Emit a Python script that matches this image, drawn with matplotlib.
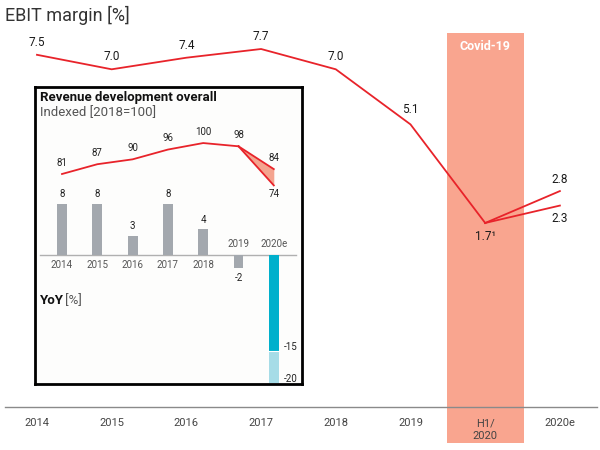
import matplotlib
matplotlib.use("Agg")
import matplotlib.pyplot as plt

plt.rcParams['font.family'] = ['Roboto', 'DejaVu Sans']

# ---- data ----
years = ["2014", "2015", "2016", "2017", "2018", "2019", "H1/\n2020", "2020e"]
ebit = [7.5, 7.0, 7.4, 7.7, 7.0, 5.1, 1.7]
ebit_2020e = [2.8, 2.3]
ebit_labels = ["7.5", "7.0", "7.4", "7.7", "7.0", "5.1", "1.7¹"]

rev_years = ["2014", "2015", "2016", "2017", "2018", "2019", "2020e"]
rev_index = [81, 87, 90, 96, 100, 98]
rev_2020e = [84, 74]
yoy = [8, 8, 3, 8, 4, -2]
yoy_2020e = [-15, -20]

RED = "#E8232A"
SALMON = "#F9A58F"
GREY_BAR = "#A3A8AE"
TEAL = "#00B0CC"
LIGHT_TEAL = "#A6DCE7"

fig = plt.figure(figsize=(6, 4.5), dpi=100)
fig.patch.set_facecolor("white")

# ---- main axes ----
ax = fig.add_axes([0, 0, 1, 1])
ax.set_xlim(-0.495, 7.537)
ax.set_ylim(-6.13, 9.39)
ax.axis("off")

n = len(ebit)
xs = list(range(n))
ax.axvspan(5.485, 6.515, ymin=(-5.89 + 6.13) / 15.52, ymax=(8.25 + 6.13) / 15.52,
           color=SALMON, lw=0, zorder=0)
ax.text(6.0, 7.78, "Covid-19", color="white", fontweight="bold", fontsize=9,
        ha="center", va="center", zorder=3)

ax.plot(xs, ebit, color=RED, lw=1.3, zorder=2)
for v in ebit_2020e:
    ax.plot([n - 1, n], [ebit[-1], v], color=RED, lw=1.3, zorder=2)

offsets = [9, 9, 9, 9, 9, 11, -10]
for x, v, lab, off in zip(xs, ebit, ebit_labels, offsets):
    ax.annotate(lab, (x, v), xytext=(0, off), textcoords="offset points",
                ha="center", va="center", fontsize=8.5, color="#1a1a1a")
ax.annotate(f"{ebit_2020e[0]}", (n, ebit_2020e[0]), xytext=(0, 8),
            textcoords="offset points", ha="center", va="center",
            fontsize=8.5, color="#1a1a1a")
ax.annotate(f"{ebit_2020e[1]}", (n, ebit_2020e[1]), xytext=(0, -9),
            textcoords="offset points", ha="center", va="center",
            fontsize=8.5, color="#1a1a1a")

# x axis line and tick labels
ax.axhline(-4.64, xmin=0.008, xmax=0.995, color="#8a8a8a", lw=1, zorder=1)
for i, lab in enumerate(years):
    ax.text(i, -5.03, lab, ha="center", va="top", fontsize=8,
            color="#444444", linespacing=1.3)

ax.text(-0.43, 8.85, "EBIT margin [%]", fontsize=13, color="#333333",
        ha="left", va="center")

# ---- inset ----
left, right, top, bottom = 35, 302, 87, 384
axi = fig.add_axes([left / 600, 1 - bottom / 450, (right - left) / 600,
                    (bottom - top) / 450])
axi.set_facecolor("#fdfdfc")
axi.set_xlim((left - 62) / 35.3, (right - 62) / 35.3)
axi.set_ylim(-20.16, 26.25)
for s in axi.spines.values():
    s.set_color("black")
    s.set_linewidth(2)
axi.set_xticks([])
axi.set_yticks([])

bw = 0.28
nb = len(yoy)
axi.bar(range(nb), yoy, width=bw, color=GREY_BAR, zorder=2)
xe = nb
axi.bar([xe], [yoy_2020e[0]], width=bw, color=TEAL, zorder=2)
axi.bar([xe], [yoy_2020e[1] - yoy_2020e[0]], bottom=[yoy_2020e[0]], width=bw,
        color=LIGHT_TEAL, zorder=2)
axi.plot([xe - bw / 2, xe + bw / 2], [yoy_2020e[0]] * 2, color="white", lw=0.8, zorder=3)
axi.axhline(0, xmin=0.02, xmax=0.978, color="#b0b0b0", lw=1, zorder=1)

for i, v in enumerate(yoy):
    if v >= 0:
        axi.annotate(str(v), (i, v), xytext=(0, 7), textcoords="offset points",
                     ha="center", va="center", fontsize=7, color="#222222")
        axi.annotate(rev_years[i], (i, 0), xytext=(0, -7), textcoords="offset points",
                     ha="center", va="center", fontsize=7, color="#555555")
    else:
        axi.annotate(str(v), (i, v), xytext=(0, -7), textcoords="offset points",
                     ha="center", va="center", fontsize=7, color="#222222")
        axi.annotate(rev_years[i], (i, 0), xytext=(0, 8), textcoords="offset points",
                     ha="center", va="center", fontsize=7, color="#555555")
axi.annotate(rev_years[xe], (xe, 0), xytext=(0, 8), textcoords="offset points",
             ha="center", va="center", fontsize=7, color="#555555")
for v in yoy_2020e:
    axi.annotate(str(v), (xe + bw / 2, v), xytext=(4, 3), textcoords="offset points",
                 ha="left", va="center", fontsize=7, color="#222222")

# line for index on twin axis
axl = axi.twinx()
axl.set_ylim(-47.9, 134.4)
axl.axis("off")
nr = len(rev_index)
axl.plot(range(nr), rev_index, color=RED, lw=1.3, zorder=4)
axl.fill_between([nr - 1, nr], [rev_index[-1], rev_2020e[0]],
                 [rev_index[-1], rev_2020e[1]], color="#F4A48F", lw=0, zorder=3)
for v in rev_2020e:
    axl.plot([nr - 1, nr], [rev_index[-1], v], color=RED, lw=1.3, zorder=4)
for i, v in enumerate(rev_index):
    axl.annotate(str(v), (i, v), xytext=(0, 8), textcoords="offset points",
                 ha="center", va="center", fontsize=7, color="#222222")
axl.annotate(str(rev_2020e[0]), (nr, rev_2020e[0]), xytext=(0, 8),
             textcoords="offset points", ha="center", va="center",
             fontsize=7, color="#222222")
axl.annotate(str(rev_2020e[1]), (nr, rev_2020e[1]), xytext=(0, -6),
             textcoords="offset points", ha="center", va="center",
             fontsize=7, color="#222222")

fig.text(40 / 600, 1 - 97 / 450, "Revenue development overall", fontsize=9.5,
         fontweight="bold", color="#111111", ha="left", va="center")
fig.text(40 / 600, 1 - 113 / 450, "Indexed [2018=100]", fontsize=9.5,
         color="#555555", ha="left", va="center")
fig.text(40 / 600, 1 - 301 / 450, "YoY", fontsize=9.5, fontweight="bold",
         color="#111111", ha="left", va="center")
fig.text(65 / 600, 1 - 301 / 450, "[%]", fontsize=9.5, color="#555555",
         ha="left", va="center")

fig.savefig("out.png", dpi=100)
